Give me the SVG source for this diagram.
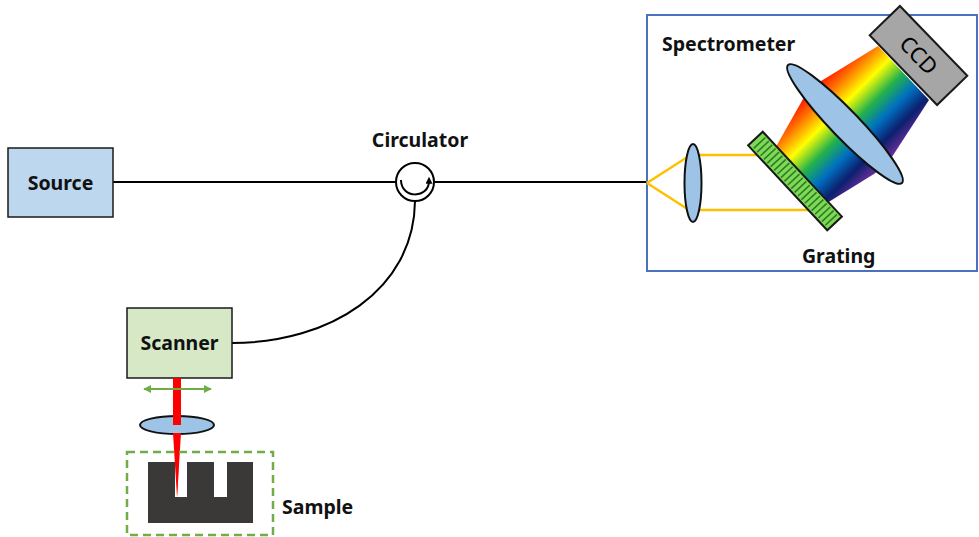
<svg xmlns="http://www.w3.org/2000/svg" width="979" height="537" viewBox="0 0 979 537">
  <defs>
    <style>
      .lbl { font-family: "Noto Sans", "Liberation Sans", sans-serif; font-weight: bold; font-size: 19.5px; fill: #111; }
      .box { stroke: #1a1a1a; stroke-width: 1.5; }
      .fiber { fill: none; stroke: #000; stroke-width: 2; }
      .lens { fill: #9DC3E6; stroke: #111; stroke-width: 2; }
      .ray { fill: none; stroke: #FFC000; stroke-width: 2.5; }
    </style>
    <linearGradient id="spectrum" gradientUnits="userSpaceOnUse" x1="797" y1="99" x2="874" y2="176">
      <stop offset="0" stop-color="#FF0000"/>
      <stop offset="0.16" stop-color="#FF7000"/>
      <stop offset="0.34" stop-color="#FFFF00"/>
      <stop offset="0.52" stop-color="#22B24C"/>
      <stop offset="0.68" stop-color="#0070C0"/>
      <stop offset="0.84" stop-color="#0B1F6E"/>
      <stop offset="1" stop-color="#7030A0"/>
    </linearGradient>
    <marker id="gHead" viewBox="0 0 10 10" refX="9" refY="5" markerWidth="4" markerHeight="4" orient="auto-start-reverse">
      <path d="M0,0 L10,5 L0,10 z" fill="#70AD47"/>
    </marker>
    <marker id="circHead" viewBox="0 0 10 10" refX="4" refY="5" markerWidth="3.5" markerHeight="3.5" orient="auto">
      <path d="M0,0 L10,5 L0,10 z" fill="#000"/>
    </marker>
  </defs>

  <rect width="979" height="537" fill="#fff"/>

  <!-- fiber connections -->
  <g id="connectors">
    <path class="fiber" d="M113,182 H396"/>
    <path class="fiber" d="M434,182 H647"/>
    <path class="fiber" d="M415,201 C414,290 330,343 232,343"/>
  </g>

  <g id="source">
    <rect class="box" x="8" y="148" width="105" height="69" fill="#BDD7EE"/>
    <text class="lbl" x="60.5" y="190" text-anchor="middle">Source</text>
  </g>

  <g id="circulator">
    <circle cx="415" cy="182" r="19" fill="#fff" stroke="#000" stroke-width="2"/>
    <!-- lower U-shaped arc, arrow at right end -->
    <path d="M401,180 C401,199 429,199 429,181" fill="none" stroke="#000" stroke-width="2" marker-end="url(#circHead)"/>
    <text class="lbl" x="420" y="147" text-anchor="middle">Circulator</text>
  </g>

  <g id="scanner">
    <rect class="box" x="127" y="308" width="105" height="70" fill="#D6E8C6"/>
    <text class="lbl" x="179.5" y="350" text-anchor="middle">Scanner</text>
  </g>

  <!-- focusing optics and beam above the sample -->
  <g id="probe">
    <ellipse class="lens" cx="177" cy="425" rx="37" ry="9" stroke-width="1.5"/>
    <rect x="173" y="378" width="8" height="47" fill="#FF0000"/>
    <polygon points="173,433 181,433 177,497" fill="#FF0000"/>
    <line x1="144" y1="389" x2="211" y2="389" stroke="#70AD47" stroke-width="2" marker-start="url(#gHead)" marker-end="url(#gHead)"/>
  </g>

  <g id="sample">
    <rect x="127" y="452" width="146" height="83" fill="none" stroke="#70AD47" stroke-width="2.5" stroke-dasharray="8,5"/>
    <path d="M148,462 H175 V497 H187 V462 H214 V497 H227 V462 H253 V523 H148 Z" fill="#3B3838"/>
    <polygon points="176,452 179,452 177.5,497" fill="#FF0000"/>
    <text class="lbl" x="282" y="514">Sample</text>
  </g>

  <g id="spectrometer">
    <rect x="647" y="15" width="330" height="256" fill="none" stroke="#4A72C0" stroke-width="2"/>
    <text class="lbl" x="662" y="51">Spectrometer</text>
    <!-- collimating rays -->
    <path class="ray" d="M647,183 L689,156 M647,183 L689,210"/>
    <path class="ray" d="M693,155 H762 M693,210 H814"/>
    <ellipse class="lens" cx="693" cy="183" rx="8.5" ry="39"/>
    <!-- dispersed spectrum -->
    <polygon points="773,152 803,99 813,86 878,46 929,100 888,163 874,174 827,203" fill="url(#spectrum)"/>
    <!-- grating -->
    <g transform="translate(795,181) rotate(47)">
      <rect x="-58" y="-10" width="116" height="20" fill="#7ED957" stroke="#1a1a1a" stroke-width="2"/>
      <path d="M-52,-8 V8 M-47,-8 V8 M-42,-8 V8 M-37,-8 V8 M-32,-8 V8 M-27,-8 V8 M-22,-8 V8 M-17,-8 V8 M-12,-8 V8 M-7,-8 V8 M-2,-8 V8 M3,-8 V8 M8,-8 V8 M13,-8 V8 M18,-8 V8 M23,-8 V8 M28,-8 V8 M33,-8 V8 M38,-8 V8 M43,-8 V8 M48,-8 V8 M53,-8 V8" stroke="#2E7D22" stroke-width="1.6"/>
    </g>
    <ellipse class="lens" cx="845" cy="124" rx="82" ry="14" transform="rotate(46 845 124)"/>
    <g transform="translate(918.5,55.5) rotate(46)">
      <rect x="-48.5" y="-21" width="97" height="42" fill="#A6A6A6" stroke="#1a1a1a" stroke-width="2"/>
      <text x="0" y="7.5" text-anchor="middle" font-family="Noto Sans, Liberation Sans, sans-serif" font-size="22" fill="#000">CCD</text>
    </g>
    <text class="lbl" x="802" y="263">Grating</text>
  </g>
</svg>
